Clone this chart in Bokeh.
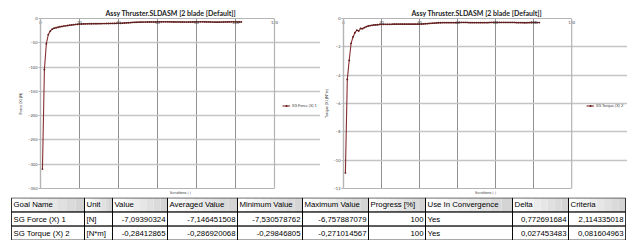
from bokeh.plotting import figure
from bokeh.models import Range1d, LinearAxis, Legend, LegendItem, FixedTicker, Span
from bokeh.layouts import column, row
from bokeh.embed import file_html
from bokeh.resources import INLINE

# ---------------- data ----------------
iterations = list(range(1, 104))

force = [
    -310, -105, -52, -33, -26, -22, -20, -19, -18, -17,
    -16.3, -15.6, -15.0, -14.4, -13.8, -13.3, -12.8, -12.3, -11.9, -11.5,
    -11.3, -11.1, -11.0, -10.9, -10.8, -10.8, -10.7, -10.6, -10.6, -10.5,
    -10.5, -10.4, -10.4, -10.3, -10.3, -10.2, -10.2, -10.1, -10.0, -10.0,
    -9.8, -9.6, -9.3, -9.0, -8.7, -8.4, -8.1, -7.9, -7.7, -7.6,
    -7.5, -7.4, -7.3, -7.3, -7.2, -7.2, -7.1, -7.1, -7.0, -7.0,
    -6.9, -6.9, -6.8, -6.8, -6.8, -6.9, -6.9, -7.0, -7.0, -7.1,
    -7.1, -7.2, -7.2, -7.3, -7.3, -7.2, -7.2, -7.1, -7.0, -6.9,
    -6.9, -6.8, -6.8, -6.9, -7.0, -7.1, -7.2, -7.3, -7.4, -7.5,
    -7.5, -7.4, -7.3, -7.2, -7.1, -7.0, -6.9, -6.8, -6.8, -6.9,
    -7.0, -7.05, -7.09,
]

torque = [
    -10.9, -4.3, -2.95, -1.75, -1.3, -1.0, -0.83, -0.88, -0.70, -0.72,
    -0.64, -0.58, -0.53, -0.50, -0.48, -0.46, -0.45, -0.44, -0.42, -0.41,
    -0.41, -0.41, -0.41, -0.41, -0.41, -0.40, -0.40, -0.40, -0.40, -0.40,
    -0.40, -0.40, -0.40, -0.40, -0.40, -0.40, -0.40, -0.40, -0.40, -0.40,
    -0.39, -0.38, -0.37, -0.36, -0.35, -0.34, -0.33, -0.32, -0.31, -0.30,
    -0.30, -0.29, -0.29, -0.29, -0.29, -0.29, -0.29, -0.29, -0.29, -0.29,
    -0.28, -0.28, -0.28, -0.28, -0.28, -0.29, -0.29, -0.29, -0.29, -0.29,
    -0.29, -0.29, -0.29, -0.29, -0.29, -0.29, -0.28, -0.28, -0.28, -0.28,
    -0.28, -0.28, -0.28, -0.28, -0.28, -0.28, -0.28, -0.28, -0.28, -0.28,
    -0.29, -0.29, -0.29, -0.29, -0.30, -0.30, -0.29, -0.29, -0.28, -0.28,
    -0.28, -0.284, -0.284,
]

chart_title = "Assy Thruster.SLDASM [2 blade [Default]]"
x_ticks = [0, 20, 40, 60, 80, 100, 120]
force_ticks = [0, -50, -100, -150, -200, -250, -300, -350]
torque_ticks = [0, -2, -4, -6, -8, -10, -12]
force_ylabel = "Force (X) [N]"
torque_ylabel = "Torque (X) [N*m]"
force_legend = "SG Force (X) 1"
torque_legend = "SG Torque (X) 2"
x_label = "Iterations [ ]"

headers = ["Goal Name", "Unit", "Value", "Averaged Value", "Minimum Value",
           "Maximum Value", "Progress [%]", "Use In Convergence", "Delta", "Criteria"]
force_row = ["SG Force (X) 1", "[N]", "-7,09390324", "-7,146451508", "-7,530578762",
             "-6,757887079", "100", "Yes", "0,772691684", "2,114335018"]
torque_row = ["SG Torque (X) 2", "[N*m]", "-0,28412865", "-0,286920068", "-0,29846805",
              "-0,271014567", "100", "Yes", "0,027453483", "0,081604963"]

# ---------------- style / layout ----------------
FONT = "Lato"
TABLE_FONT = "Liberation Sans"
LINE_COLOR = "#862d2d"
MARK_COLOR = "#5a1c1c"
BORDER = "#b4b4b4"
CH_H = 197
T_H = 43


def make_chart(vals, yticks, ylabel, legend_label, width, bl, plot_w, title_offset, leg_dx):
    frame_w = width - bl
    x0, x1 = x_ticks[0], x_ticks[-1]
    x_end = x0 + (x1 - x0) * frame_w / plot_w   # extra room on the right for the legend
    p = figure(width=width, height=CH_H, output_backend="svg", toolbar_location=None,
               x_range=Range1d(x0, x_end),
               y_range=Range1d(yticks[-1], yticks[0]),
               x_axis_location="above", y_axis_location="left",
               min_border_left=bl, min_border_right=0,
               min_border_top=18, min_border_bottom=8,
               title=chart_title)
    p.title.align = "left"
    p.title.vertical_align = "middle"
    p.title.offset = title_offset
    p.title.standoff = 0
    p.title.text_font = FONT
    p.title.text_font_size = "7px"
    p.title.text_font_style = "bold"
    p.title.text_color = "#222222"

    p.outline_line_color = None
    p.background_fill_color = "white"
    p.border_fill_color = "white"

    xa = p.above[0]
    xa.ticker = FixedTicker(ticks=x_ticks)
    xa.bounds = (x0, x1)
    xa.major_label_text_font = FONT
    xa.major_label_text_font_size = "4px"
    xa.major_label_text_color = "#444444"
    xa.major_label_standoff = -5
    xa.major_tick_out = 0
    xa.major_tick_in = 0
    xa.minor_tick_line_color = None
    xa.axis_line_color = BORDER
    xa.axis_line_width = 1.2

    ya = p.left[0]
    ya.ticker = FixedTicker(ticks=yticks)
    ya.major_label_text_font = FONT
    ya.major_label_text_font_size = "4px"
    ya.major_label_text_color = "#444444"
    ya.major_label_standoff = 1
    ya.major_tick_out = 2
    ya.major_tick_in = 0
    ya.major_tick_line_color = BORDER
    ya.minor_tick_line_color = None
    ya.axis_line_color = BORDER
    ya.axis_line_width = 1.4
    ya.axis_label = ylabel
    ya.axis_label_text_font = FONT
    ya.axis_label_text_font_size = "4px"
    ya.axis_label_text_font_style = "normal"
    ya.axis_label_standoff = 2

    xb = LinearAxis(ticker=FixedTicker(ticks=[]), axis_label=x_label, bounds=(x0, x1),
                    major_tick_line_color=None, major_label_text_font_size="4px",
                    minor_tick_line_color=None, axis_line_color=BORDER, axis_line_width=1.2,
                    major_tick_out=0, major_tick_in=0, major_label_standoff=0,
                    axis_label_text_font=FONT, axis_label_text_font_size="4px",
                    axis_label_text_font_style="normal", axis_label_standoff=1)
    p.add_layout(xb, "below")

    p.xgrid.ticker = FixedTicker(ticks=x_ticks[1:-1])
    p.xgrid.grid_line_color = "#858585"
    p.xgrid.grid_line_width = 0.9
    p.ygrid.ticker = FixedTicker(ticks=yticks)
    p.ygrid.bounds = (x0, x1)
    p.ygrid.grid_line_color = "#c4c4c4"
    p.ygrid.grid_line_width = 1.4

    p.add_layout(Span(location=x1, dimension="height", line_color=BORDER, line_width=1.2))

    ln = p.line(iterations, vals, line_color=LINE_COLOR, line_width=1.1)
    sc = p.scatter(iterations, vals, size=1.8, marker="circle",
                   fill_color=MARK_COLOR, line_color=None)

    leg = Legend(items=[LegendItem(label=legend_label, renderers=[ln, sc])],
                 location=(plot_w + leg_dx, 80), margin=0, padding=0, spacing=0,
                 glyph_width=8, glyph_height=5, label_height=5, label_standoff=2,
                 label_text_font=FONT, label_text_font_size="4px",
                 border_line_color=None, background_fill_alpha=0)
    p.add_layout(leg)
    return p


p1 = make_chart(force, force_ticks, force_ylabel, force_legend, 320, 40, 234, 65, 8)
p2 = make_chart(torque, torque_ticks, torque_ylabel, torque_legend, 307, 17, 233, 68, 10)

# ---------------- table ----------------
col_edges = [11, 84, 112, 167, 237, 302, 368, 425, 512, 568, 625]
right_cols = {2, 3, 4, 5, 6, 8, 9}

pt = figure(width=627, height=T_H, output_backend="svg", toolbar_location=None,
            x_range=Range1d(0, 627), y_range=Range1d(3.03, -0.03),
            min_border=0, x_axis_location=None, y_axis_location=None)
pt.grid.visible = False
pt.outline_line_color = None

# header gradient background
strips_l, strips_r, strips_c = [], [], []
n_strips = 8
for c in range(len(headers)):
    l, r = col_edges[c], col_edges[c + 1]
    w = (r - l) / n_strips
    for k in range(n_strips):
        g = int(255 - (255 - 212) * k / (n_strips - 1))
        strips_l.append(l + k * w)
        strips_r.append(l + (k + 1) * w)
        strips_c.append("#%02x%02x%02x" % (g, g, g))
pt.quad(left=strips_l, right=strips_r, top=[0] * len(strips_l), bottom=[1] * len(strips_l),
        fill_color=strips_c, line_color=None)

# cell borders
cl, cr, ctop, cbot = [], [], [], []
for rr in range(3):
    for c in range(len(headers)):
        cl.append(col_edges[c]); cr.append(col_edges[c + 1])
        ctop.append(rr); cbot.append(rr + 1)
pt.quad(left=cl, right=cr, top=ctop, bottom=cbot, fill_color=None,
        line_color="black", line_width=0.8)

lx, ly, lt, rx, ry, rt = [], [], [], [], [], []
for rr, rowvals in enumerate([headers, force_row, torque_row]):
    for c, txt in enumerate(rowvals):
        if rr > 0 and c in right_cols:
            rx.append(col_edges[c + 1] - 2); ry.append(rr + 0.5); rt.append(txt)
        else:
            lx.append(col_edges[c] + 2); ly.append(rr + 0.5); lt.append(txt)

pt.text(lx, ly, text=lt, text_align="left", text_baseline="middle",
        text_font_size="7.8px", text_font={"value": TABLE_FONT}, text_color="black")
pt.text(rx, ry, text=rt, text_align="right", text_baseline="middle",
        text_font_size="7.8px", text_font={"value": TABLE_FONT}, text_color="black")

layout = column(row(p1, p2, spacing=0), pt, spacing=0)

open("out.html", "w").write(file_html(layout, INLINE))
